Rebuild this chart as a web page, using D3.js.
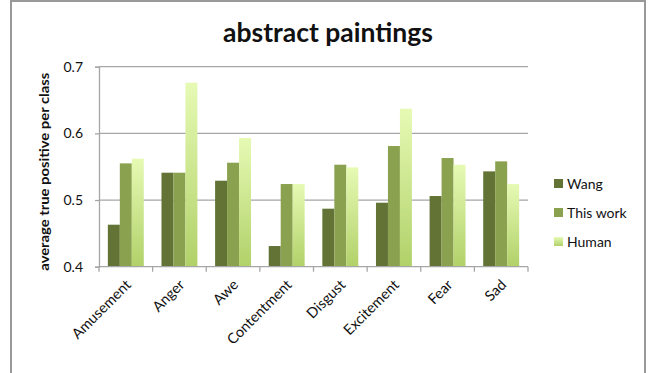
<html>
<script src="https://d3js.org/d3.v7.min.js"></script>
<style>
  body { margin: 0; background: #fff; }
  text { font-family: Lato, "Open Sans", sans-serif; fill: #111; }
</style>
<body>
</body>
<script>
    // data
    let categories = ["Amusement", "Anger", "Awe", "Contentment", "Disgust", "Excitement", "Fear", "Sad"];
    let series = ["Wang", "This work", "Human"];
    let wang     = [0.463, 0.541, 0.529, 0.431, 0.487, 0.496, 0.506, 0.543];
    let thisWork = [0.555, 0.541, 0.556, 0.524, 0.553, 0.581, 0.563, 0.558];
    let human    = [0.562, 0.676, 0.593, 0.524, 0.549, 0.637, 0.553, 0.524];
    let yTicks = [0.4, 0.5, 0.6, 0.7];

    let values = [wang, thisWork, human];
    let colors = ["#627335", "#8aa14f", "url(#humanGrad)"];
    let swatch = ["#627335", "#8aa14f", "url(#humanGradL)"];

    let W = 649, H = 373;
    let plot = {left: 99, right: 528, top: 66.7, bottom: 266.7};

    let svg = d3.select("body").append("svg")
        .attr("width", W)
        .attr("height", H);

    let defs = svg.append("defs");
    function grad(id) {
        let g = defs.append("linearGradient").attr("id", id)
            .attr("x1", 0).attr("y1", 0).attr("x2", 0).attr("y2", 1);
        g.append("stop").attr("offset", "0%").attr("stop-color", "#e6fab4");
        g.append("stop").attr("offset", "100%").attr("stop-color", "#b1d169");
    }
    grad("humanGrad");
    grad("humanGradL");

    // outer frame
    svg.append("rect")
        .attr("x", 11).attr("y", 1)
        .attr("width", 634).attr("height", H + 10)
        .attr("fill", "none")
        .attr("stroke", "#999")
        .attr("stroke-width", 2);

    svg.append("text")
        .attr("x", 328).attr("y", 42)
        .attr("text-anchor", "middle")
        .attr("font-size", 26.5)
        .attr("font-weight", "bold")
        .text("abstract paintings");

    let y = d3.scaleLinear().domain([0.4, 0.7]).range([plot.bottom, plot.top]);
    let x = d3.scaleBand().domain(categories).range([plot.left, plot.right])
        .paddingInner(0.33).paddingOuter(0.165);
    let xs = d3.scaleBand().domain(series).range([0, x.bandwidth()]);

    // gridlines
    svg.append("g").selectAll("line")
        .data(yTicks.slice(1))
        .enter().append("line")
        .attr("x1", plot.left).attr("x2", plot.right)
        .attr("y1", d => y(d)).attr("y2", d => y(d))
        .attr("stroke", "#a6a6a6").attr("stroke-width", 1.3);

    // y axis
    let yAxis = svg.append("g")
        .attr("transform", "translate(" + plot.left + ",0)")
        .call(d3.axisLeft(y).tickValues(yTicks).tickSize(4).tickPadding(12).tickFormat(d3.format(".1f")));
    yAxis.selectAll("path, line").attr("stroke", "#a6a6a6").attr("stroke-width", 1.3);
    yAxis.selectAll("text").attr("font-size", 14).attr("fill", "#111")
        .style("font-family", "Lato, sans-serif");

    svg.append("text")
        .attr("transform", "translate(49," + ((plot.top + plot.bottom) / 2 + 5) + ") rotate(-90)")
        .attr("text-anchor", "middle")
        .attr("font-size", 14)
        .attr("font-weight", "bold")
        .attr("textLength", 198)
        .attr("lengthAdjust", "spacingAndGlyphs")
        .text("average true positive per class");

    // bars
    series.forEach((s, si) => {
        svg.append("g").selectAll("rect")
            .data(categories)
            .enter().append("rect")
            .attr("x", (c) => x(c) + xs(s))
            .attr("width", xs.bandwidth())
            .attr("y", (c, i) => y(values[si][i]))
            .attr("height", (c, i) => plot.bottom - y(values[si][i]))
            .attr("fill", colors[si]);
    });

    // x axis with ticks between categories
    let step = x.step();
    let boundaries = d3.range(categories.length + 1).map(i => plot.left + i * step);
    svg.append("line")
        .attr("x1", plot.left).attr("x2", plot.right)
        .attr("y1", plot.bottom).attr("y2", plot.bottom)
        .attr("stroke", "#a6a6a6").attr("stroke-width", 1.3);
    svg.append("g").selectAll("line")
        .data(boundaries)
        .enter().append("line")
        .attr("x1", d => d).attr("x2", d => d)
        .attr("y1", plot.bottom).attr("y2", plot.bottom + 5)
        .attr("stroke", "#a6a6a6").attr("stroke-width", 1.3);

    svg.append("g").selectAll("text")
        .data(categories)
        .enter().append("text")
        .attr("transform", c => "translate(" + (x(c) + x.bandwidth() / 2 + 6) + "," + (plot.bottom + 19) + ") rotate(-45)")
        .attr("text-anchor", "end")
        .attr("font-size", 14.5)
        .text(c => c);

    // legend
    let legend = svg.append("g").attr("transform", "translate(554,179)");
    series.forEach((s, si) => {
        legend.append("rect")
            .attr("x", 0).attr("y", si * 29)
            .attr("width", 9).attr("height", 9)
            .attr("fill", swatch[si]);
        legend.append("text")
            .attr("x", 13).attr("y", si * 29 + 9.5)
            .attr("font-size", 14)
            .text(s);
    });
</script>
</html>
